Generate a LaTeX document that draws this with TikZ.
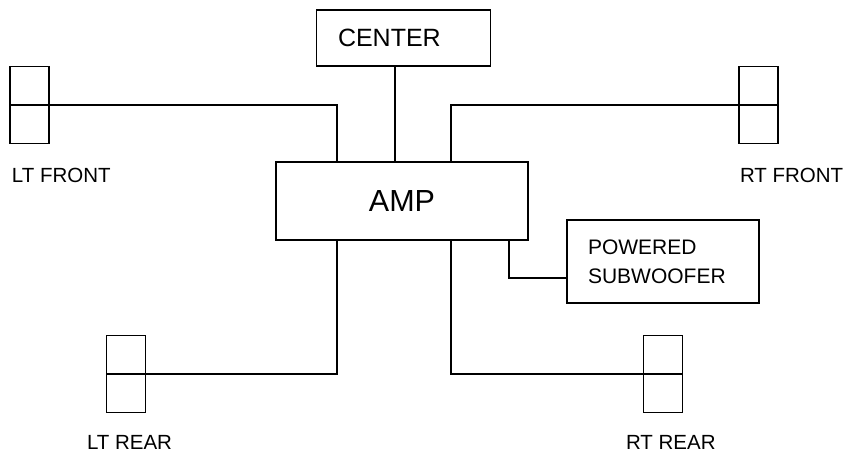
\documentclass[tikz,border=0pt]{standalone}
\usepackage{fontspec}
\setmainfont{Liberation Sans}
\begin{document}
\begin{tikzpicture}[x=1pt,y=-1pt,
  every node/.style={outer sep=0pt},
  box/.style={draw=black, line width=1.8pt, rectangle, inner sep=0pt},
  spk/.style={draw=black, line width=1.8pt, rectangle, minimum width=39pt, minimum height=77pt, inner sep=0pt,
    path picture={\draw[line width=1.8pt] (path picture bounding box.west) -- (path picture bounding box.east);}},
  wire/.style={draw=black, line width=1.8pt},
  lbl/.style={anchor=west, inner sep=0pt, font=\fontsize{20.5}{24}\selectfont}]
\useasboundingbox (0,0) rectangle (848,453);
\fill[white] (0,0) rectangle (848,453);

\node[box, minimum width=174pt, minimum height=56pt, text width=131pt, align=left, font=\fontsize{25}{30}\selectfont] (center) at (403.5,38) {CENTER};
\node[box, minimum width=252pt, minimum height=78pt, font=\fontsize{30.5}{36}\selectfont] (amp) at (402,201) {AMP};
\node[box, minimum width=192pt, minimum height=83pt, text width=150pt, align=left, font=\fontsize{21}{29}\selectfont] (sub) at (663,261.5) {POWERED\\SUBWOOFER};

\node[spk] (ltf) at (29.75,105) {};
\node[spk] (rtf) at (758.5,105) {};
\node[spk] (ltr) at (126,374) {};
\node[spk] (rtr) at (663,374) {};

\node[lbl] (ltfl) at (12,175) {LT FRONT};
\node[lbl] (rtfl) at (740,175) {RT FRONT};
\node[lbl] (ltrl) at (87,442) {LT REAR};
\node[lbl] (rtrl) at (626,442) {RT REAR};

\draw[wire] (ltf.east) -| ([xshift=-65pt]amp.north);
\draw[wire] (rtf.west) -| ([xshift=49pt]amp.north);
\draw[wire] ([xshift=-7pt]amp.north) -- ([xshift=-7pt]amp.north |- center.south);
\draw[wire] ([xshift=-65pt]amp.south) |- (ltr.east);
\draw[wire] ([xshift=49pt]amp.south) |- (rtr.west);
\draw[wire] ([xshift=107pt]amp.south) |- ([yshift=-16.5pt]sub.west);
\end{tikzpicture}
\end{document}
